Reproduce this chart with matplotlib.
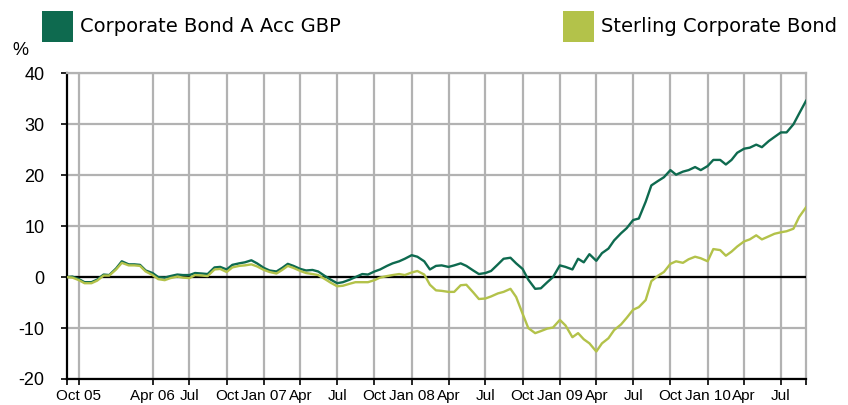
"""Cumulative performance: Corporate Bond A Acc GBP vs Sterling Corporate Bond sector."""

import matplotlib

matplotlib.use("Agg")

import matplotlib.pyplot as plt
import matplotlib.dates as mdates
from matplotlib.patches import Rectangle
import pandas as pd


# semi-monthly observations, 1 Sep 2005 -> 1 Sep 2010
DATES = pd.date_range("2005-09-01", periods=121, freq="SMS")

CORP = [
    0.0, 0.1, -0.4, -1.0, -1.0, -0.5, 0.5, 0.4, 1.7, 3.1,
    2.5, 2.5, 2.4, 1.3, 0.8, 0.0, -0.1, 0.2, 0.5, 0.4,
    0.4, 0.8, 0.7, 0.6, 1.9, 2.0, 1.5, 2.4, 2.7, 2.9,
    3.3, 2.7, 1.8, 1.3, 1.1, 1.8, 2.6, 2.2, 1.6, 1.3,
    1.4, 1.1, 0.2, -0.5, -1.2, -1.0, -0.5, 0.0, 0.6, 0.5,
    1.1, 1.5, 2.2, 2.7, 3.1, 3.6, 4.3, 4.0, 3.1, 1.5,
    2.2, 2.3, 2.0, 2.3, 2.7, 2.2, 1.3, 0.6, 0.8, 1.2,
    2.5, 3.6, 3.8, 2.7, 1.6, -0.5, -2.3, -2.2, -1.0, 0.0,
    2.3, 2.0, 1.5, 3.6, 2.9, 4.5, 3.2, 4.7, 5.6, 7.2,
    8.6, 9.6, 11.2, 11.5, 14.8, 18.0, 18.9, 19.6, 21.0, 20.1,
    20.7, 21.0, 21.6, 21.0, 21.8, 23.0, 23.0, 22.1, 23.0, 24.4,
    25.2, 25.4, 26.0, 25.5, 26.7, 27.5, 28.4, 28.4, 30.0, 32.1,
    34.6,
]

STERLING = [
    0.0, -0.1, -0.6, -1.2, -1.2, -0.7, 0.3, 0.3, 1.5, 2.8,
    2.3, 2.3, 2.2, 1.1, 0.4, -0.4, -0.6, -0.2, 0.1, -0.1,
    -0.2, 0.4, 0.3, 0.2, 1.5, 1.6, 1.0, 1.9, 2.2, 2.3,
    2.5, 2.1, 1.4, 1.0, 0.7, 1.4, 2.2, 1.8, 1.2, 0.8,
    0.6, 0.4, -0.4, -1.1, -1.8, -1.7, -1.3, -1.0, -1.0, -1.0,
    -0.6, -0.1, 0.2, 0.4, 0.6, 0.4, 0.9, 1.2, 0.5, -1.5,
    -2.6, -2.7, -2.9, -2.9, -1.6, -1.5, -3.0, -4.3, -4.2, -3.8,
    -3.2, -2.9, -2.3, -3.9, -7.2, -10.0, -11.0, -10.6, -10.1, -9.9,
    -8.4, -9.5, -11.8, -11.0, -12.2, -13.0, -14.6, -13.0, -12.0, -10.4,
    -9.3, -8.0, -6.4, -5.9, -4.5, -0.8, 0.3, 1.0, 2.6, 3.1,
    2.8, 3.5, 4.0, 3.7, 3.1, 5.5, 5.3, 4.2, 5.0, 6.0,
    7.0, 7.4, 8.2, 7.4, 8.0, 8.5, 8.8, 9.0, 9.5, 11.8,
    13.7,
]

SERIES_NAMES = ["Corporate Bond A Acc GBP", "Sterling Corporate Bond"]

TICK_DATES = [
    "2005-10-01", "2006-04-01", "2006-07-01", "2006-10-01",
    "2007-01-01", "2007-04-01", "2007-07-01", "2007-10-01",
    "2008-01-01", "2008-04-01", "2008-07-01", "2008-10-01",
    "2009-01-01", "2009-04-01", "2009-07-01", "2009-10-01",
    "2010-01-01", "2010-04-01", "2010-07-01",
]
TICK_LABELS = [
    "Oct 05", "Apr 06", "Jul", "Oct",
    "Jan 07", "Apr", "Jul", "Oct",
    "Jan 08", "Apr", "Jul", "Oct",
    "Jan 09", "Apr", "Jul", "Oct",
    "Jan 10", "Apr", "Jul",
]
Y_TICKS = [-20, -10, 0, 10, 20, 30, 40]

DARK_GREEN = "#0e6a4f"
LIGHT_GREEN = "#b3c24a"
GRID_GREY = "#b2b2b2"


def main() -> None:
    fig = plt.figure(figsize=(8.48, 4.05), dpi=100)
    ax = fig.add_axes([0.0787, 0.0642, 0.8718, 0.7548])

    ax.plot(DATES, CORP, color=DARK_GREEN, lw=1.7, zorder=4)
    ax.plot(DATES, STERLING, color=LIGHT_GREEN, lw=1.7, zorder=5)
    ax.axhline(0, color="black", lw=1.6, zorder=3)

    ax.set_xlim(DATES[0], DATES[-1])
    ax.set_ylim(-20, 40)

    ax.set_xticks(pd.to_datetime(TICK_DATES))
    ax.set_xticklabels(TICK_LABELS, family=["Liberation Sans Narrow", "Liberation Sans"], fontsize=11)
    ax.set_xticks([DATES[0], DATES[-1]], minor=True)
    ax.set_yticks(Y_TICKS)
    ax.set_yticklabels([str(v) for v in Y_TICKS], family="Liberation Sans", fontsize=13)

    ax.grid(True, which="major", color=GRID_GREY, lw=1.6, zorder=1)
    ax.set_axisbelow(True)
    ax.tick_params(which="both", direction="out", length=4, width=1.2, color="black")
    ax.tick_params(axis="x", pad=3)
    ax.tick_params(axis="y", pad=12)

    for side in ("left", "bottom"):
        ax.spines[side].set_color("black")
        ax.spines[side].set_linewidth(1.6)
    for side in ("top", "right"):
        ax.spines[side].set_color(GRID_GREY)
        ax.spines[side].set_linewidth(1.6)

    fig.text(0.015, 0.875, "%", fontsize=13, family="Liberation Sans", va="center")

    # legend drawn by hand: two swatches across the top
    for x0, colour, name in ((0.0498, DARK_GREEN, SERIES_NAMES[0]), (0.664, LIGHT_GREEN, SERIES_NAMES[1])):
        fig.patches.append(Rectangle((x0, 0.897), 0.036, 0.076, transform=fig.transFigure,
                                     facecolor=colour, edgecolor="none"))
        fig.text(x0 + 0.0445, 0.934, name, fontsize=14, family="DejaVu Sans", va="center")

    fig.savefig("out.png", dpi=100)
    plt.close(fig)


if __name__ == "__main__":
    main()
